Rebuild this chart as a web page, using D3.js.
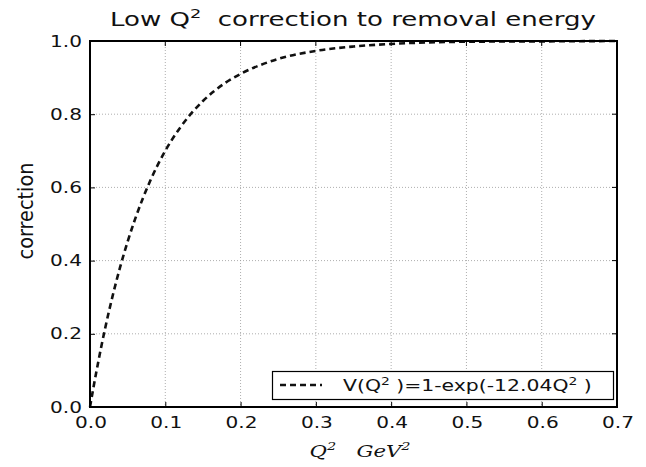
<!DOCTYPE html>
<html><head><meta charset="utf-8">
<script src="https://cdn.jsdelivr.net/npm/d3@7/dist/d3.min.js"></script>
<style>body{margin:0;background:#fff} text{white-space:pre}</style>
</head><body>
<svg id="c" width="646" height="467"></svg>
<script>
const q2 = [0, 0.005, 0.01, 0.02, 0.03, 0.04, 0.05, 0.06, 0.08, 0.10, 0.12, 0.15, 0.18, 0.20, 0.25, 0.30, 0.35, 0.40, 0.50, 0.60, 0.70];
const corr = [0, 0.058, 0.113, 0.214, 0.303, 0.382, 0.452, 0.514, 0.618, 0.700, 0.764, 0.836, 0.886, 0.910, 0.951, 0.973, 0.985, 0.992, 0.998, 0.999, 1.000];
const xTicks = [0.0, 0.1, 0.2, 0.3, 0.4, 0.5, 0.6, 0.7];
const yTicks = [0.0, 0.2, 0.4, 0.6, 0.8, 1.0];
const titleParts = [["Low Q", 0], ["2", 1], ["  correction to removal energy", 0]];
const legendParts = [["V(Q", 0], ["2", 1], [" )=1-exp(-12.04Q", 0], ["2", 1], [" )", 0]];

const svg = d3.select("#c");
const L = 90, R = 617, T = 41, B = 407;
const x = d3.scaleLinear().domain([0, 0.7]).range([L, R]);
const y = d3.scaleLinear().domain([0, 1]).range([B, T]);
const font = "DejaVu Sans, sans-serif";

function stext(px, py, anchor, size, parts, sx, family, style) {
  const g = svg.append("g").attr("transform", `translate(${px},${py}) scale(${sx},1)`);
  const t = g.append("text").attr("text-anchor", anchor).attr("font-family", family || font)
    .attr("font-size", size).attr("fill", "#111");
  if (style) t.attr("font-style", style);
  let sup = 0;
  parts.forEach(([s, isSup]) => {
    const sp = t.append("tspan").text(s);
    if (isSup && !sup) { sp.attr("dy", -size * 0.42).attr("font-size", size * 0.68); sup = 1; }
    else if (!isSup && sup) { sp.attr("dy", size * 0.42); sup = 0; }
  });
  return t;
}

svg.append("g").selectAll("line").data(xTicks).join("line")
  .attr("x1", d => x(d)).attr("x2", d => x(d)).attr("y1", T).attr("y2", B)
  .attr("stroke", "#999").attr("stroke-width", 0.8).attr("stroke-dasharray", "1,2");
svg.append("g").selectAll("line").data(yTicks).join("line")
  .attr("y1", d => y(d)).attr("y2", d => y(d)).attr("x1", L).attr("x2", R)
  .attr("stroke", "#999").attr("stroke-width", 0.8).attr("stroke-dasharray", "1,2");

const xa = svg.append("g").attr("transform", `translate(0,${B})`)
  .call(d3.axisBottom(x).tickValues(xTicks).tickFormat("").tickSizeInner(-5).tickSizeOuter(0));
const ya = svg.append("g").attr("transform", `translate(${L},0)`)
  .call(d3.axisLeft(y).tickValues(yTicks).tickFormat("").tickSizeInner(-5).tickSizeOuter(0));
[xa, ya].forEach(a => { a.select(".domain").remove(); a.selectAll(".tick line").attr("stroke", "#000"); });
const fmt = d3.format(".1f");
xTicks.forEach(d => stext(x(d) + 1, B + 21, "middle", 15, [[fmt(d), 0]], 1.34));
yTicks.forEach(d => stext(L - 8, y(d) + 5.5, "end", 15, [[fmt(d), 0]], 1.34));

svg.append("g").selectAll("line").data(xTicks).join("line")
  .attr("x1", d => x(d)).attr("x2", d => x(d)).attr("y1", T).attr("y2", T + 5).attr("stroke", "#000");
svg.append("g").selectAll("line").data(yTicks).join("line")
  .attr("y1", d => y(d)).attr("y2", d => y(d)).attr("x1", R).attr("x2", R - 5).attr("stroke", "#000");

const line = d3.line().x((d, i) => x(q2[i])).y(d => y(d)).curve(d3.curveMonotoneX);
svg.append("path").datum(corr).attr("d", line).attr("fill", "none")
  .attr("stroke", "#111").attr("stroke-width", 2.6).attr("stroke-dasharray", "6,4");

svg.append("rect").attr("x", L).attr("y", T).attr("width", R - L).attr("height", B - T)
  .attr("fill", "none").attr("stroke", "#000").attr("stroke-width", 2);

stext(353, 26, "middle", 19, titleParts, 1.37);

stext(360, 457, "middle", 17, [["Q", 0], ["2", 1], ["   GeV", 0], ["2", 1]], 1.25, "DejaVu Serif, serif", "italic");

svg.append("g").attr("transform", "translate(33,211) scale(1.1,1) rotate(-90)")
  .append("text").attr("text-anchor", "middle").attr("font-family", font)
  .attr("font-size", 19.3).attr("fill", "#111").text("correction");

const lg = svg.append("g");
lg.append("rect").attr("x", 272.5).attr("y", 371.5).attr("width", 341).attr("height", 28)
  .attr("fill", "#fff").attr("stroke", "#000").attr("stroke-width", 1.2);
lg.append("line").attr("x1", 280).attr("x2", 322).attr("y1", 385).attr("y2", 385)
  .attr("stroke", "#111").attr("stroke-width", 2.6).attr("stroke-dasharray", "6,4");
stext(343, 391, "start", 15, legendParts, 1.36);
</script>
</body></html>
